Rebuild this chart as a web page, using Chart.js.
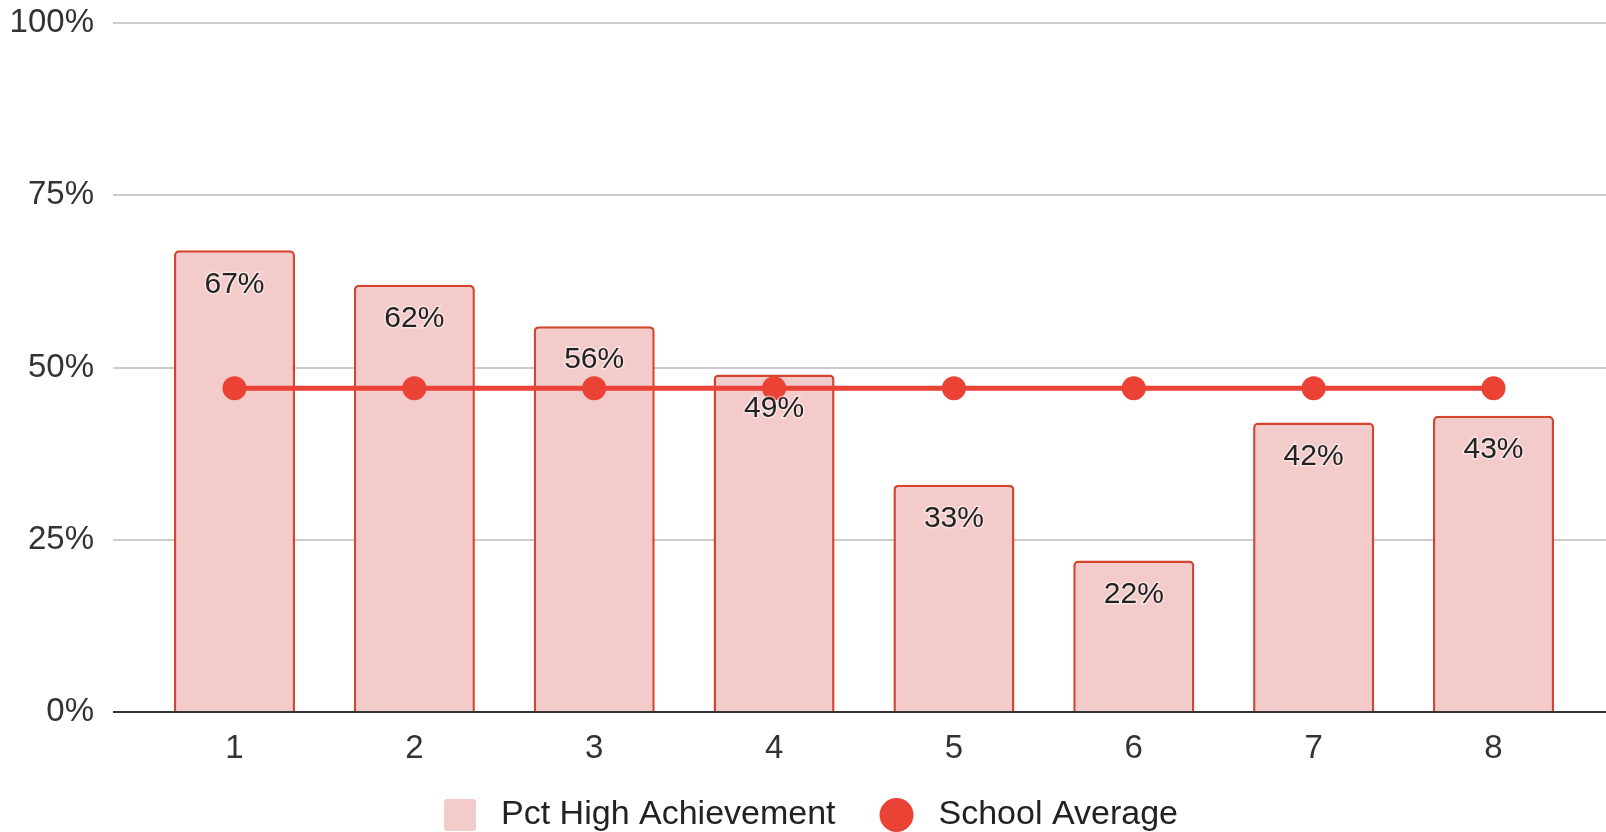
<!DOCTYPE html>
<html>
<head>
<meta charset="utf-8">
<title>Pct High Achievement</title>
<script src="https://cdn.jsdelivr.net/npm/chart.js@4/dist/chart.umd.min.js"></script>
<style>
  html, body { margin: 0; padding: 0; background: #fff; }
  #wrap { position: relative; width: 1606px; height: 832px; }
</style>
</head>
<body>
<div id="wrap"><canvas id="chart"></canvas></div>
<script>
// data
const grades = [1, 2, 3, 4, 5, 6, 7, 8];
const pctHigh = [67, 62, 56, 49, 33, 22, 42, 43];
const schoolAvg = [47, 47, 47, 47, 47, 47, 47, 47];
const yTicks = [0, 25, 50, 75, 100];
const seriesNames = ['Pct High Achievement', 'School Average'];

const FONT = '"Liberation Sans", Arial, sans-serif';
const barFill = '#f4cbcb';
const barEdge = '#d4452f';
const lineRed = '#ea4335';

// value labels inside the top of each bar
const barLabels = {
  id: 'barLabels',
  afterDatasetsDraw(chart) {
    const ctx = chart.ctx;
    const meta = chart.getDatasetMeta(1); // the bar dataset
    ctx.save();
    ctx.font = '30px ' + FONT;
    ctx.textAlign = 'center';
    ctx.textBaseline = 'middle';
    meta.data.forEach((el, i) => {
      const txt = Math.round(pctHigh[i]) + '%';
      ctx.lineWidth = 3;
      ctx.strokeStyle = 'rgba(255,255,255,0.45)';
      ctx.strokeText(txt, el.x, el.y + 34);
      ctx.fillStyle = '#222';
      ctx.fillText(txt, el.x, el.y + 34);
    });
    ctx.restore();
  }
};

// legend at the bottom, drawn on the canvas
const bottomLegend = {
  id: 'bottomLegend',
  afterDraw(chart) {
    const ctx = chart.ctx;
    const cy = 815;
    ctx.save();
    ctx.font = '34px ' + FONT;
    ctx.textBaseline = 'middle';
    const w1 = ctx.measureText(seriesNames[0]).width;
    const w2 = ctx.measureText(seriesNames[1]).width;
    const total = 32 + 25 + w1 + 44 + 34 + 25 + w2;
    let x = 811 - total / 2;

    ctx.fillStyle = barFill;
    ctx.beginPath();
    ctx.roundRect(x, cy - 16, 32, 32, 3);
    ctx.fill();
    x += 32 + 25;
    ctx.fillStyle = '#222';
    ctx.fillText(seriesNames[0], x, cy);
    x += w1 + 44;

    ctx.fillStyle = lineRed;
    ctx.beginPath();
    ctx.arc(x + 17, cy, 17, 0, Math.PI * 2);
    ctx.fill();
    x += 34 + 25;
    ctx.fillStyle = '#222';
    ctx.fillText(seriesNames[1], x, cy);
    ctx.restore();
  }
};

new Chart(document.getElementById('chart'), {
  data: {
    datasets: [
      {
        type: 'line',
        label: seriesNames[1],
        data: grades.map((g, i) => ({ x: g, y: schoolAvg[i] })),
        borderColor: lineRed,
        backgroundColor: lineRed,
        borderWidth: 5,
        pointRadius: 12,
        pointBorderWidth: 0,
        pointBackgroundColor: lineRed,
        tension: 0,
        order: 1
      },
      {
        type: 'bar',
        label: seriesNames[0],
        data: grades.map((g, i) => ({ x: g, y: pctHigh[i] })),
        backgroundColor: barFill,
        borderColor: barEdge,
        borderWidth: 2.5,
        borderSkipped: 'bottom',
        borderRadius: { topLeft: 5, topRight: 5 },
        barPercentage: 0.673,
        categoryPercentage: 1,
        order: 2
      }
    ]
  },
  options: {
    responsive: true,
    maintainAspectRatio: false,
    animation: false,
    layout: { autoPadding: false, padding: { top: 23, right: 0, bottom: 0, left: 0 } },
    plugins: {
      legend: { display: false },
      tooltip: { enabled: false }
    },
    scales: {
      x: {
        type: 'linear',
        offset: false,
        min: 0.3245,
        max: 8.6255,
        grid: { display: false, offset: false },
        border: { display: false },
        afterBuildTicks: (scale) => {
          scale.ticks = grades.map(g => ({ value: g }));
        },
        afterFit: (scale) => {
          scale.height = 120;
          scale.paddingLeft = 0;
          scale.paddingRight = 0;
        },
        ticks: {
          color: '#333',
          font: { family: FONT, size: 33 },
          padding: 9,
          maxRotation: 0,
          callback: (v) => String(v)
        }
      },
      y: {
        min: 0,
        max: 100,
        afterBuildTicks: (scale) => {
          scale.ticks = yTicks.map(v => ({ value: v }));
        },
        afterFit: (scale) => {
          scale.width = 113;
          scale.paddingTop = 0;
          scale.paddingBottom = 0;
        },
        grid: {
          drawTicks: false,
          lineWidth: 2,
          color: (c) => (c.tick && c.tick.value === 0 ? '#333' : '#cccccc')
        },
        border: { display: false },
        ticks: {
          color: '#333',
          font: { family: FONT, size: 33 },
          padding: 19,
          callback: (v) => v + '%'
        }
      }
    }
  },
  plugins: [barLabels, bottomLegend]
});
</script>
</body>
</html>
